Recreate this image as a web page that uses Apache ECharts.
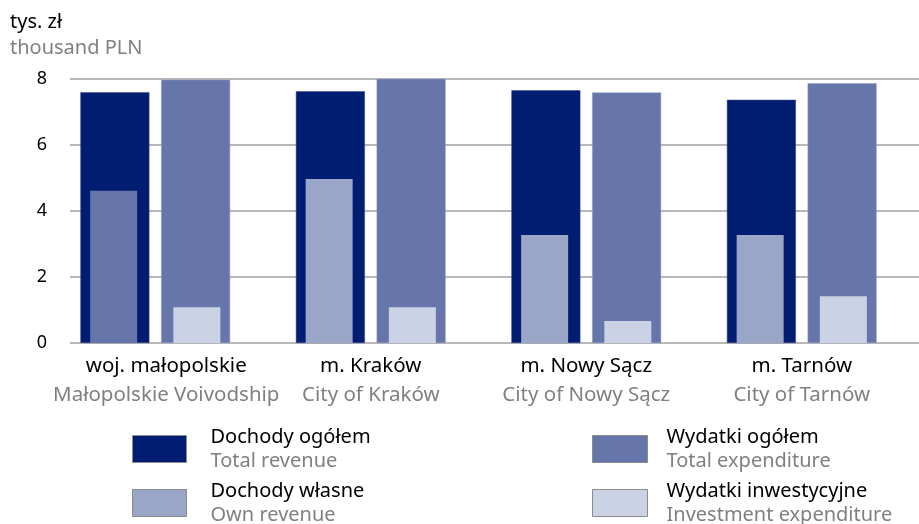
<!DOCTYPE html>
<html style="height: 100%">
<head>
    <meta charset="utf-8">
    <script src="https://cdn.jsdelivr.net/npm/echarts@6/dist/echarts.min.js"></script>
</head>
<body style="height: 100%; margin: 0">
    <div id="main" style="width: 919px; height: 524px"></div>
    <script type="text/javascript">
        // dane (tys. zł na mieszkańca)
        var categoriesPl = ['woj. małopolskie', 'm. Kraków', 'm. Nowy Sącz', 'm. Tarnów'];
        var categoriesEn = ['Małopolskie Voivodship', 'City of Kraków', 'City of Nowy Sącz', 'City of Tarnów'];
        var seriesPl = ['Dochody ogółem', 'Wydatki ogółem', 'Dochody własne', 'Wydatki inwestycyjne'];
        var seriesEn = ['Total revenue', 'Total expenditure', 'Own revenue', 'Investment expenditure'];
        var totalRevenue = [7.60, 7.63, 7.66, 7.37];
        var totalExpenditure = [7.98, 8.03, 7.59, 7.87];
        var ownRevenue = [4.61, 4.97, 3.27, 3.27];
        var investExpenditure = [1.08, 1.08, 0.67, 1.42];
        var yTicks = [0, 2, 4, 6, 8];

        var colors = ['#001d72', '#6676aa', '#9aa6c8', '#ccd2e5'];
        var font = 'Noto Sans';

        var enMap = {};
        seriesPl.forEach(function (n, i) { enMap[n] = seriesEn[i]; });

        var labels = categoriesPl.map(function (c, i) {
            var txt = '{a|' + c + '}\n{b|' + categoriesEn[i] + '}';
            // pierwszy podpis jest w oryginale nieco przesunięty w prawo
            return i === 0 ? { value: txt, textStyle: { padding: [0, 0, 0, 22] } } : txt;
        });

        // w oryginale pierwszy słupek "Dochody własne" ma kolor wydatków ogółem
        var ownData = ownRevenue.map(function (v, i) {
            return i === 0 ? { value: v, itemStyle: { color: colors[1] } } : v;
        });

        var richLegend = {
            a: { color: '#000', fontSize: 20, fontFamily: font, lineHeight: 24 },
            b: { color: '#808080', fontSize: 20, fontFamily: font, lineHeight: 24 }
        };
        function legendItem(name, left, top, iconW, gap) {
            return {
                left: left,
                top: top,
                padding: 0,
                icon: 'rect',
                itemWidth: iconW,
                itemHeight: 27,
                itemStyle: { borderColor: '#8c8c8c', borderWidth: 1 },
                data: [name],
                formatter: function (n) { return '{a|' + n + '}\n{b|' + enMap[n] + '}'; },
                textStyle: { rich: richLegend, padding: [0, 0, 0, gap] }
            };
        }

        var myChart = echarts.init(document.getElementById('main'));
        var option = {
            animation: false,
            color: colors,
            title: {
                text: 'tys. zł',
                subtext: 'thousand PLN',
                left: 5,
                top: 7,
                itemGap: 6,
                textStyle: { color: '#000', fontSize: 20, fontWeight: 'normal', fontFamily: font },
                subtextStyle: { color: '#808080', fontSize: 20, fontFamily: font }
            },
            legend: [
                legendItem(seriesPl[0], 132, 427, 54, 19),
                legendItem(seriesPl[2], 132, 481, 54, 19),
                legendItem(seriesPl[1], 592, 427, 55, 14),
                legendItem(seriesPl[3], 592, 481, 55, 14)
            ],
            grid: [
                { left: 70, right: 0, top: 79, bottom: 181 },
                { left: 47.5, right: 9.5, top: 79, bottom: 181 }
            ],
            xAxis: [{
                gridIndex: 0,
                type: 'value',
                show: false
            }, {
                gridIndex: 1,
                type: 'category',
                data: labels,
                axisLine: { show: false },
                axisTick: { show: false },
                axisLabel: {
                    margin: 9,
                    interval: 0,
                    rich: {
                        a: { color: '#000', fontSize: 20.5, fontFamily: font, lineHeight: 29 },
                        b: { color: '#808080', fontSize: 20.5, fontFamily: font, lineHeight: 29 }
                    }
                }
            }, {
                gridIndex: 1,
                type: 'category',
                data: labels,
                show: false
            }],
            yAxis: [{
                gridIndex: 0,
                type: 'value',
                min: yTicks[0],
                max: yTicks[yTicks.length - 1],
                interval: 2,
                axisLine: { show: false },
                axisTick: { show: false },
                axisLabel: { color: '#000', fontSize: 18, fontFamily: font, margin: 23 },
                splitLine: { lineStyle: { color: '#a0a0a0', width: 1.5 } }
            }, {
                gridIndex: 1,
                type: 'value',
                min: yTicks[0],
                max: yTicks[yTicks.length - 1],
                show: false
            }],
            series: [{
                name: seriesPl[0],
                type: 'bar',
                xAxisIndex: 1,
                yAxisIndex: 1,
                barWidth: 69,
                barGap: '17%',
                itemStyle: { borderColor: '#3a4a8c', borderWidth: 0.5 },
                data: totalRevenue
            }, {
                name: seriesPl[1],
                type: 'bar',
                xAxisIndex: 1,
                yAxisIndex: 1,
                barWidth: 69,
                barGap: '17%',
                itemStyle: { borderColor: '#909bc4', borderWidth: 0.5 },
                data: totalExpenditure
            }, {
                name: seriesPl[2],
                type: 'bar',
                xAxisIndex: 2,
                yAxisIndex: 1,
                barWidth: 47,
                barGap: '77%',
                z: 3,
                data: ownData
            }, {
                name: seriesPl[3],
                type: 'bar',
                xAxisIndex: 2,
                yAxisIndex: 1,
                barWidth: 47,
                barGap: '77%',
                z: 3,
                data: investExpenditure
            }]
        };
        myChart.setOption(option);
    </script>
</body>
</html>
